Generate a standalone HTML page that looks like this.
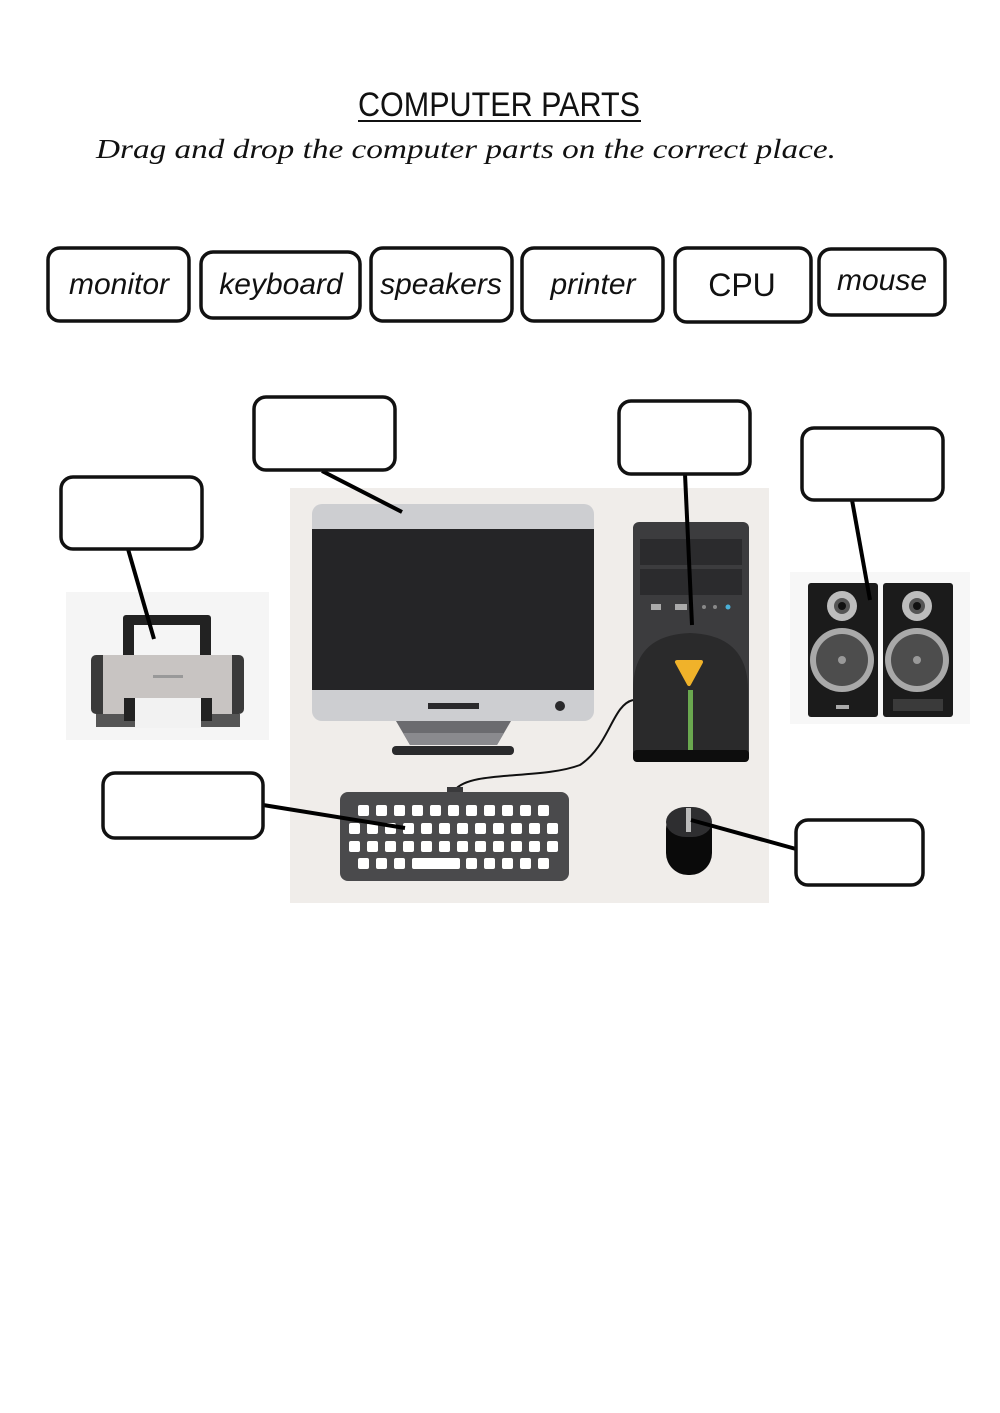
<!DOCTYPE html>
<html><head><meta charset="utf-8"><style>
body{margin:0;background:#fff}
svg{display:block}
text{font-family:"Liberation Sans",sans-serif}
.cur{font-family:"Liberation Serif",serif;font-style:italic}
</style></head><body>
<svg width="1000" height="1413" viewBox="0 0 1000 1413" xmlns="http://www.w3.org/2000/svg">
<rect width="1000" height="1413" fill="#fff"/>
<text x="499" y="116" font-size="34" text-anchor="middle" fill="#111" textLength="282" lengthAdjust="spacingAndGlyphs">COMPUTER PARTS</text>
<line x1="358" y1="121" x2="641" y2="121" stroke="#111" stroke-width="2"/>
<text x="96" y="158" class="cur" font-size="27" fill="#111" textLength="740" lengthAdjust="spacingAndGlyphs">Drag and drop the computer parts on the correct place.</text>
<g fill="#fff" stroke="#111" stroke-width="3.5">
<rect x="48" y="248" width="141" height="73" rx="12"/>
<rect x="201" y="252" width="159" height="66" rx="12"/>
<rect x="371" y="248" width="141" height="73" rx="12"/>
<rect x="522" y="248" width="141" height="73" rx="12"/>
<rect x="675" y="248" width="136" height="74" rx="12"/>
<rect x="819" y="249" width="126" height="66" rx="12"/>
</g>
<g class="cur" font-size="30" fill="#111" text-anchor="middle">
<text x="119" y="294">monitor</text>
<text x="281" y="294">keyboard</text>
<text x="441" y="294">speakers</text>
<text x="593" y="294">printer</text>
<text x="882" y="290">mouse</text>
</g>
<text x="742" y="296" font-size="32" fill="#111" text-anchor="middle">CPU</text>
<!-- scene backgrounds -->
<rect x="290" y="488" width="479" height="415" fill="#f0edea"/>
<rect x="66" y="592" width="203" height="148" fill="#f5f5f5"/>
<rect x="790" y="572" width="180" height="152" fill="#f7f7f7"/>
<!-- monitor -->
<rect x="312" y="504" width="282" height="217" rx="10" fill="#cdced1"/>
<rect x="312" y="529" width="282" height="161" fill="#252527"/>
<rect x="428" y="703" width="51" height="6" fill="#2a2a2c"/>
<circle cx="560" cy="706" r="5" fill="#2a2a2c"/>
<polygon points="396,721 511,721 497,745 410,745" fill="#6b6b6f"/>
<polygon points="403,733 504,733 497,745 410,745" fill="#8a8a8e"/>
<rect x="392" y="746" width="122" height="9" rx="4" fill="#2a2a2c"/>
<!-- tower -->
<rect x="633" y="522" width="116" height="240" rx="6" fill="#3c3c3e"/>
<rect x="640" y="539" width="102" height="26" fill="#2b2b2d"/>
<rect x="640" y="569" width="102" height="26" fill="#2b2b2d"/>
<rect x="651" y="604" width="10" height="6" fill="#aaa"/>
<rect x="675" y="604" width="12" height="6" fill="#aaa"/>
<circle cx="704" cy="607" r="2" fill="#888"/><circle cx="715" cy="607" r="2" fill="#888"/><circle cx="728" cy="607" r="2.5" fill="#4ab0d8"/>
<path d="M633,690 Q633,635 690,633 Q748,635 748,690 L748,752 L633,752 Z" fill="#2a2a2b"/>
<rect x="633" y="750" width="116" height="12" rx="4" fill="#0d0d0d"/>
<path d="M677,662 L701,662 L689,684 Z" fill="#f0b22a" stroke="#f0b22a" stroke-width="4" stroke-linejoin="round"/>
<rect x="688" y="690" width="5" height="60" fill="#6aa84f"/>
<!-- cable -->
<path d="M633,700 C612,705 610,745 580,765 C540,780 470,770 455,790" fill="none" stroke="#111" stroke-width="2"/>
<rect x="447" y="787" width="16" height="6" fill="#3a3a3c"/>
<!-- keyboard -->
<rect x="340" y="792" width="229" height="89" rx="8" fill="#4a4a4c"/>
<g fill="#fff">
<rect x="358" y="805" width="11" height="11" rx="2"/><rect x="376" y="805" width="11" height="11" rx="2"/><rect x="394" y="805" width="11" height="11" rx="2"/><rect x="412" y="805" width="11" height="11" rx="2"/><rect x="430" y="805" width="11" height="11" rx="2"/><rect x="448" y="805" width="11" height="11" rx="2"/><rect x="466" y="805" width="11" height="11" rx="2"/><rect x="484" y="805" width="11" height="11" rx="2"/><rect x="502" y="805" width="11" height="11" rx="2"/><rect x="520" y="805" width="11" height="11" rx="2"/><rect x="538" y="805" width="11" height="11" rx="2"/>
<rect x="349" y="823" width="11" height="11" rx="2"/><rect x="367" y="823" width="11" height="11" rx="2"/><rect x="385" y="823" width="11" height="11" rx="2"/><rect x="403" y="823" width="11" height="11" rx="2"/><rect x="421" y="823" width="11" height="11" rx="2"/><rect x="439" y="823" width="11" height="11" rx="2"/><rect x="457" y="823" width="11" height="11" rx="2"/><rect x="475" y="823" width="11" height="11" rx="2"/><rect x="493" y="823" width="11" height="11" rx="2"/><rect x="511" y="823" width="11" height="11" rx="2"/><rect x="529" y="823" width="11" height="11" rx="2"/><rect x="547" y="823" width="11" height="11" rx="2"/>
<rect x="349" y="841" width="11" height="11" rx="2"/><rect x="367" y="841" width="11" height="11" rx="2"/><rect x="385" y="841" width="11" height="11" rx="2"/><rect x="403" y="841" width="11" height="11" rx="2"/><rect x="421" y="841" width="11" height="11" rx="2"/><rect x="439" y="841" width="11" height="11" rx="2"/><rect x="457" y="841" width="11" height="11" rx="2"/><rect x="475" y="841" width="11" height="11" rx="2"/><rect x="493" y="841" width="11" height="11" rx="2"/><rect x="511" y="841" width="11" height="11" rx="2"/><rect x="529" y="841" width="11" height="11" rx="2"/><rect x="547" y="841" width="11" height="11" rx="2"/>
<rect x="358" y="858" width="11" height="11" rx="2"/><rect x="376" y="858" width="11" height="11" rx="2"/><rect x="394" y="858" width="11" height="11" rx="2"/><rect x="412" y="858" width="48" height="11" rx="2"/><rect x="466" y="858" width="11" height="11" rx="2"/><rect x="484" y="858" width="11" height="11" rx="2"/><rect x="502" y="858" width="11" height="11" rx="2"/><rect x="520" y="858" width="11" height="11" rx="2"/><rect x="538" y="858" width="11" height="11" rx="2"/>
</g>
<!-- mouse -->
<rect x="666" y="807" width="46" height="68" rx="22" fill="#0a0a0a"/>
<rect x="666" y="807" width="46" height="30" rx="20" fill="#2e2e30"/>
<rect x="686" y="808" width="5" height="24" fill="#bbb"/>
<!-- printer -->
<rect x="123" y="615" width="88" height="46" rx="3" fill="#222"/>
<rect x="134" y="625" width="66" height="36" fill="#f5f5f5"/>
<rect x="91" y="655" width="153" height="59" rx="5" fill="#3a3a3a"/>
<rect x="103" y="655" width="129" height="59" fill="#c8c4c2"/>
<rect x="153" y="675" width="30" height="3" fill="#999"/>
<rect x="96" y="714" width="144" height="13" fill="#555"/>
<rect x="124" y="698" width="88" height="23" fill="#222"/>
<rect x="135" y="698" width="66" height="30" fill="#f2f2f2"/>
<!-- speakers -->
<g>
<rect x="808" y="583" width="70" height="134" rx="3" fill="#1b1b1b"/>
<rect x="883" y="583" width="70" height="134" rx="3" fill="#1b1b1b"/>
<circle cx="842" cy="606" r="15" fill="#bdbdbd"/><circle cx="842" cy="606" r="8" fill="#555"/><circle cx="842" cy="606" r="4" fill="#111"/>
<circle cx="917" cy="606" r="15" fill="#bdbdbd"/><circle cx="917" cy="606" r="8" fill="#555"/><circle cx="917" cy="606" r="4" fill="#111"/>
<circle cx="842" cy="660" r="32" fill="#a9a9a9"/><circle cx="842" cy="660" r="26" fill="#4d4d4d"/><circle cx="842" cy="660" r="4" fill="#999"/>
<circle cx="917" cy="660" r="32" fill="#a9a9a9"/><circle cx="917" cy="660" r="26" fill="#4d4d4d"/><circle cx="917" cy="660" r="4" fill="#999"/>
<rect x="836" y="705" width="13" height="4" fill="#aaa"/>
<rect x="893" y="699" width="50" height="12" fill="#3a3a3a"/>
</g>
<!-- connector lines -->
<g stroke="#000" stroke-width="4" fill="none">
<line x1="322" y1="471" x2="402" y2="512"/>
<line x1="685" y1="474" x2="692" y2="625"/>
<line x1="852" y1="500" x2="870" y2="600"/>
<line x1="128" y1="549" x2="154" y2="639"/>
<line x1="263" y1="805" x2="405" y2="828"/>
<line x1="796" y1="849" x2="691" y2="820"/>
</g>
<!-- empty label boxes -->
<g fill="#fff" stroke="#111" stroke-width="3.5">
<rect x="254" y="397" width="141" height="73" rx="12"/>
<rect x="619" y="401" width="131" height="73" rx="12"/>
<rect x="802" y="428" width="141" height="72" rx="12"/>
<rect x="61" y="477" width="141" height="72" rx="12"/>
<rect x="103" y="773" width="160" height="65" rx="12"/>
<rect x="796" y="820" width="127" height="65" rx="12"/>
</g>
</svg>
</body></html>
